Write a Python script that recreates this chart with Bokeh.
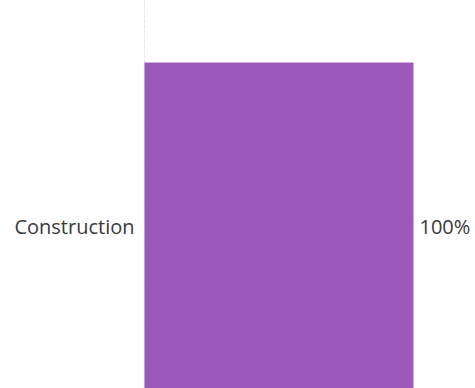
from bokeh.plotting import figure
from bokeh.models import Range1d, FixedTicker, ColumnDataSource
from bokeh.core.properties import value
from bokeh.embed import file_html
from bokeh.resources import INLINE

categories = ["Construction"]
shares = [1.0]
share_labels = ["100%"]

src = ColumnDataSource(dict(y=[0], share=shares, cat=categories, lab=share_labels))

p = figure(width=475, height=388, output_backend="svg", toolbar_location=None,
           x_range=Range1d(-0.5353, 1.2305), y_range=Range1d(-0.988, 1.378),
           min_border_left=0, min_border_right=0, min_border_top=0, min_border_bottom=0)
p.outline_line_color = None
p.xaxis.visible = False
p.yaxis.visible = False
p.ygrid.visible = False
p.xgrid.ticker = FixedTicker(ticks=[0])
p.xgrid.grid_line_color = "#e6e6e6"
p.xgrid.grid_line_dash = "4 1"

p.hbar(y="y", left=0, right="share", height=2, source=src, color="#9b59bb", line_color=None)

p.text(x=0, y="y", text="cat", source=src, x_offset=-10, text_align="right", text_baseline="middle",
       text_font=value("Open Sans"), text_font_size="20px", text_color="#3a3a3a")
p.text(x="share", y="y", text="lab", source=src, x_offset=6, text_align="left", text_baseline="middle",
       text_font=value("Open Sans"), text_font_size="20px", text_color="#3a3a3a")

open("out.html", "w").write(file_html(p, INLINE))
